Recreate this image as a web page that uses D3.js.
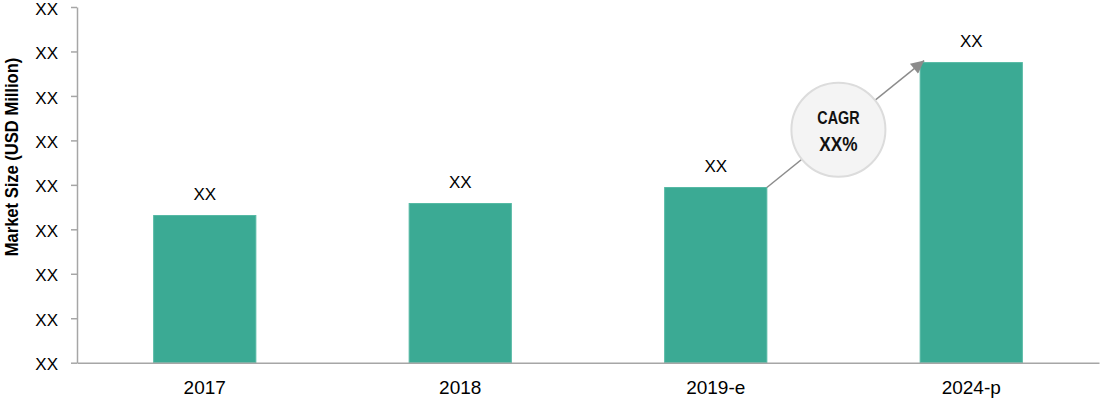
<!DOCTYPE html>
<html>
<head>
<meta charset="utf-8">
<script src="https://cdn.jsdelivr.net/npm/d3@7"></script>
<style>
  html, body { margin: 0; padding: 0; background: #fff; }
  svg { display: block; }
</style>
</head>
<body>
<svg id="chart" width="1100" height="400"></svg>
<script>
const categories = ["2017", "2018", "2019-e", "2024-p"];
const values = [3.31, 3.58, 3.94, 6.75];
const valueLabels = ["XX", "XX", "XX", "XX"];
const yTickValues = [0, 1, 2, 3, 4, 5, 6, 7, 8];
const yTickLabels = ["XX", "XX", "XX", "XX", "XX", "XX", "XX", "XX", "XX"];
const yAxisTitle = "Market Size (USD Million)";
const cagrTitle = "CAGR";
const cagrValue = "XX%";

const svg = d3.select("#chart");
const W = 1100, H = 400;
const margin = { left: 77, right: 1, top: 7, bottom: 37.3 };
const baseFont = "'Liberation Sans', Arial, sans-serif";

const x = d3.scaleBand()
  .domain(categories)
  .range([margin.left, W - margin.right])
  .paddingInner(0.6)
  .paddingOuter(0.3);

const y = d3.scaleLinear()
  .domain([0, 8])
  .range([H - margin.bottom, margin.top]);

// Y axis
const yAxis = d3.axisLeft(y)
  .tickValues(yTickValues)
  .tickFormat((d, i) => yTickLabels[i])
  .tickSize(6)
  .tickSizeOuter(0)
  .tickPadding(13);

const gy = svg.append("g")
  .attr("transform", `translate(${margin.left},0)`)
  .call(yAxis);
gy.select(".domain").attr("stroke", "#a6a6a6").attr("stroke-width", 1.5);
gy.selectAll(".tick line").attr("stroke", "#a6a6a6").attr("stroke-width", 1.5);
gy.selectAll(".tick text")
  .attr("fill", "#000")
  .attr("dy", "0.42em")
  .style("font-family", baseFont)
  .style("font-size", "17px");

// Bars
svg.append("g").selectAll("rect")
  .data(values)
  .join("rect")
  .attr("x", (d, i) => x(categories[i]))
  .attr("y", d => y(d))
  .attr("width", x.bandwidth())
  .attr("height", d => y(0) - y(d))
  .attr("fill", "#3baa94")
  .attr("stroke", "#55b9a4")
  .attr("stroke-width", 1);

// X axis
const xAxis = d3.axisBottom(x).tickSize(0).tickSizeOuter(0).tickPadding(18);
const gx = svg.append("g")
  .attr("transform", `translate(0,${y(0)})`)
  .call(xAxis);
gx.select(".domain").attr("stroke", "#a6a6a6").attr("stroke-width", 1.5);
gx.selectAll(".tick text")
  .attr("fill", "#000")
  .style("font-family", baseFont)
  .style("font-size", "19px");

// Value labels
svg.append("g").selectAll("text")
  .data(values)
  .join("text")
  .attr("x", (d, i) => x(categories[i]) + x.bandwidth() / 2)
  .attr("y", d => y(d) - 16)
  .attr("text-anchor", "middle")
  .style("font-family", baseFont)
  .style("font-size", "17px")
  .attr("fill", "#000")
  .text((d, i) => valueLabels[i]);

// Y axis title
svg.append("text")
  .attr("transform", `translate(18,157) rotate(-90) scale(0.92,1)`)
  .attr("text-anchor", "middle")
  .style("font-family", baseFont)
  .style("font-weight", "bold")
  .style("font-size", "18px")
  .attr("fill", "#000")
  .text(yAxisTitle);

// CAGR arrow
const defs = svg.append("defs");
defs.append("marker")
  .attr("id", "arrow")
  .attr("viewBox", "0 0 10 10")
  .attr("refX", 10)
  .attr("refY", 5)
  .attr("markerUnits", "userSpaceOnUse")
  .attr("markerWidth", 16)
  .attr("markerHeight", 13)
  .attr("orient", "auto")
  .append("path")
  .attr("d", "M0,0 L10,5 L0,10 Z")
  .attr("fill", "#8c8c8c");

const x1 = x(categories[2]) + x.bandwidth();
const y1 = y(values[2]);
const x2 = x(categories[3]) + 4;
const y2 = y(values[3]) - 2;

svg.append("line")
  .attr("x1", x1).attr("y1", y1)
  .attr("x2", x2).attr("y2", y2)
  .attr("stroke", "#8c8c8c")
  .attr("stroke-width", 1.5)
  .attr("marker-end", "url(#arrow)");

const t = 0.455;
const cx = x1 + (x2 - x1) * t;
const cy = y1 + (y2 - y1) * t;

svg.append("circle")
  .attr("cx", cx).attr("cy", cy).attr("r", 47)
  .attr("fill", "#f4f4f4")
  .attr("stroke", "#dcdcdc")
  .attr("stroke-width", 2);

const cg = svg.append("g").attr("transform", `translate(${cx},${cy}) scale(0.82,1)`);
cg.append("text")
  .attr("x", 0).attr("y", -6)
  .attr("text-anchor", "middle")
  .style("font-family", baseFont)
  .style("font-weight", "bold")
  .style("font-size", "17.5px")
  .attr("fill", "#111")
  .text(cagrTitle);

cg.append("text")
  .attr("x", 0).attr("y", 21)
  .attr("text-anchor", "middle")
  .style("font-family", baseFont)
  .style("font-weight", "bold")
  .style("font-size", "21px")
  .attr("fill", "#111")
  .text(cagrValue);
</script>
</body>
</html>
